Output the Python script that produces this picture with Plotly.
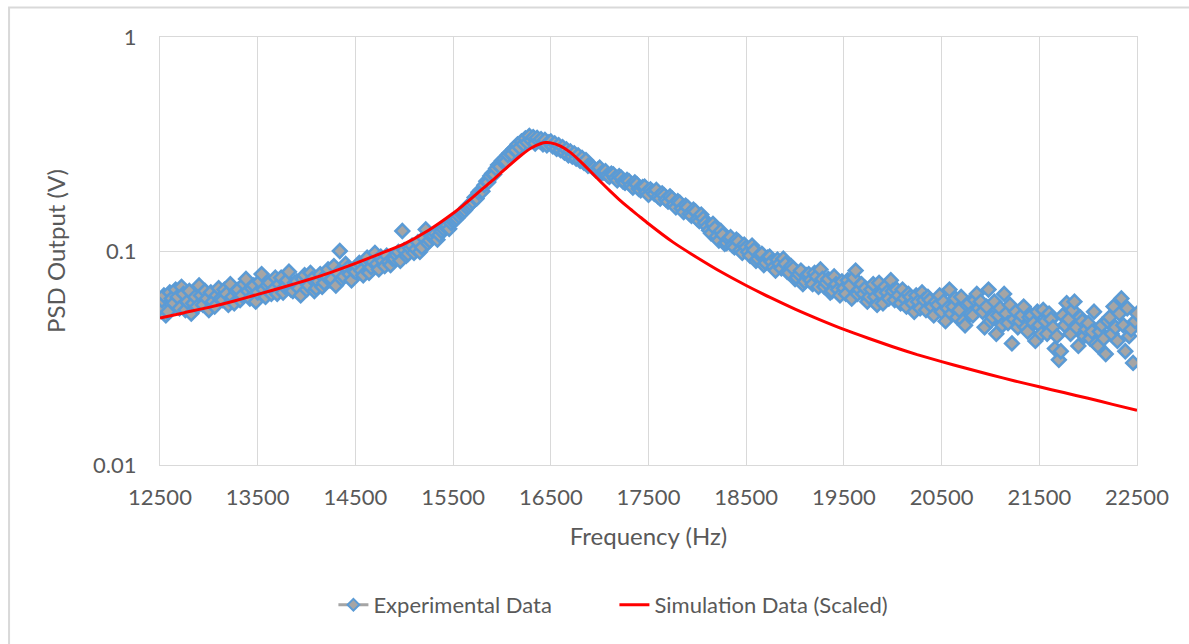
import plotly.graph_objects as go

# Frequency sweep of the measurement (Hz)
exp_freq = list(range(12500, 22501, 20))

# Measured PSD output (V), one row per 400 Hz of the sweep
exp_psd = [
    0.055, 0.059, 0.062, 0.050, 0.052, 0.064, 0.060, 0.057, 0.066, 0.061, 0.054, 0.068, 0.063, 0.053, 0.058, 0.065, 0.051, 0.057, 0.061, 0.055,
    0.069, 0.062, 0.056, 0.065, 0.060, 0.053, 0.064, 0.058, 0.055, 0.062, 0.067, 0.060, 0.059, 0.066, 0.063, 0.056, 0.070, 0.061, 0.057, 0.065,
    0.066, 0.059, 0.062, 0.070, 0.074, 0.065, 0.060, 0.067, 0.069, 0.058, 0.064, 0.072, 0.078, 0.066, 0.061, 0.069, 0.071, 0.063, 0.066, 0.075,
    0.063, 0.070, 0.075, 0.064, 0.068, 0.073, 0.080, 0.066, 0.065, 0.071, 0.072, 0.067, 0.062, 0.074, 0.077, 0.066, 0.069, 0.079, 0.074, 0.065,
    0.067, 0.072, 0.078, 0.068, 0.071, 0.077, 0.082, 0.073, 0.074, 0.085, 0.069, 0.079, 0.100, 0.074, 0.076, 0.087, 0.083, 0.078, 0.073, 0.081,
    0.080, 0.085, 0.088, 0.081, 0.077, 0.090, 0.093, 0.079, 0.084, 0.089, 0.098, 0.087, 0.082, 0.094, 0.090, 0.085, 0.095, 0.089, 0.086, 0.092,
    0.092, 0.096, 0.099, 0.090, 0.124, 0.101, 0.095, 0.097, 0.103, 0.106, 0.098, 0.102, 0.110, 0.099, 0.104, 0.115, 0.126, 0.109, 0.112, 0.117,
    0.118, 0.121, 0.113, 0.119, 0.124, 0.127, 0.130, 0.132, 0.127, 0.135, 0.138, 0.140, 0.142, 0.146, 0.150, 0.152, 0.155, 0.160, 0.163, 0.166,
    0.170, 0.178, 0.176, 0.188, 0.192, 0.190, 0.203, 0.212, 0.210, 0.224, 0.230, 0.228, 0.243, 0.252, 0.248, 0.264, 0.268, 0.262, 0.281, 0.288,
    0.284, 0.300, 0.296, 0.315, 0.305, 0.325, 0.316, 0.336, 0.322, 0.345, 0.328, 0.340, 0.318, 0.338, 0.326, 0.333, 0.315, 0.330, 0.312, 0.322,
    0.325, 0.308, 0.318, 0.300, 0.312, 0.296, 0.306, 0.288, 0.298, 0.280, 0.292, 0.276, 0.286, 0.270, 0.280, 0.264, 0.272, 0.258, 0.266, 0.250,
    0.252, 0.248, 0.244, 0.238, 0.240, 0.245, 0.231, 0.233, 0.236, 0.226, 0.222, 0.230, 0.228, 0.219, 0.214, 0.224, 0.220, 0.211, 0.208, 0.215,
    0.212, 0.203, 0.198, 0.209, 0.205, 0.195, 0.192, 0.199, 0.200, 0.188, 0.183, 0.194, 0.190, 0.185, 0.193, 0.179, 0.176, 0.186, 0.182, 0.174,
    0.170, 0.180, 0.176, 0.165, 0.160, 0.171, 0.168, 0.158, 0.152, 0.163, 0.160, 0.149, 0.146, 0.156, 0.153, 0.141, 0.138, 0.148, 0.142, 0.135,
    0.130, 0.125, 0.121, 0.134, 0.128, 0.117, 0.112, 0.124, 0.119, 0.108, 0.109, 0.114, 0.116, 0.106, 0.104, 0.113, 0.111, 0.101, 0.098, 0.107,
    0.104, 0.099, 0.095, 0.106, 0.101, 0.090, 0.092, 0.096, 0.097, 0.086, 0.088, 0.093, 0.094, 0.089, 0.084, 0.081, 0.091, 0.087, 0.083, 0.092,
    0.087, 0.080, 0.079, 0.085, 0.083, 0.074, 0.075, 0.078, 0.081, 0.070, 0.072, 0.077, 0.078, 0.073, 0.070, 0.079, 0.076, 0.068, 0.082, 0.074,
    0.068, 0.071, 0.074, 0.064, 0.065, 0.076, 0.070, 0.066, 0.062, 0.072, 0.067, 0.063, 0.073, 0.069, 0.060, 0.075, 0.081, 0.063, 0.066, 0.070,
    0.063, 0.067, 0.058, 0.061, 0.066, 0.070, 0.061, 0.056, 0.071, 0.063, 0.057, 0.068, 0.064, 0.060, 0.073, 0.065, 0.059, 0.066, 0.062, 0.057,
    0.066, 0.060, 0.055, 0.063, 0.061, 0.057, 0.052, 0.062, 0.058, 0.054, 0.064, 0.059, 0.053, 0.061, 0.059, 0.055, 0.050, 0.058, 0.056, 0.062,
    0.052, 0.058, 0.047, 0.054, 0.066, 0.051, 0.055, 0.060, 0.049, 0.053, 0.061, 0.047, 0.045, 0.056, 0.057, 0.051, 0.050, 0.059, 0.063, 0.054,
    0.058, 0.052, 0.044, 0.055, 0.066, 0.047, 0.049, 0.058, 0.041, 0.050, 0.054, 0.045, 0.063, 0.051, 0.046, 0.056, 0.037, 0.048, 0.052, 0.044,
    0.047, 0.050, 0.055, 0.044, 0.042, 0.049, 0.050, 0.046, 0.038, 0.052, 0.045, 0.041, 0.053, 0.047, 0.041, 0.051, 0.048, 0.044, 0.035, 0.040,
    0.031, 0.034, 0.050, 0.045, 0.057, 0.048, 0.041, 0.053, 0.058, 0.044, 0.036, 0.049, 0.047, 0.040, 0.043, 0.046, 0.039, 0.042, 0.052, 0.037,
    0.036, 0.042, 0.045, 0.039, 0.033, 0.047, 0.049, 0.041, 0.055, 0.044, 0.038, 0.051, 0.060, 0.045, 0.034, 0.054, 0.040, 0.043, 0.030, 0.047,
    0.051,
]

# Simulated response, scaled to the measurement
sim_freq = [
    12500, 12750, 13000, 13250, 13500, 13750, 14000, 14250, 14500, 14750,
    15000, 15250, 15500, 15600, 15700, 15800, 15900, 16000, 16100, 16200,
    16300, 16400, 16450, 16500, 16600, 16700, 16800, 16900, 17000, 17100,
    17200, 17300, 17400, 17500, 17750, 18000, 18250, 18500, 18750, 19000,
    19250, 19500, 19750, 20000, 20250, 20500, 20750, 21000, 21250, 21500,
    21750, 22000, 22250, 22500,
]
sim_psd = [
    0.0486, 0.0515, 0.0545, 0.0582, 0.0627, 0.0675, 0.0730, 0.0795, 0.0875, 0.0970,
    0.1080, 0.1250, 0.1500, 0.1630, 0.1780, 0.1950, 0.2130, 0.2340, 0.2570, 0.2810,
    0.3030, 0.3180, 0.3210, 0.3200, 0.3090, 0.2890, 0.2630, 0.2370, 0.2130, 0.1920,
    0.1740, 0.1590, 0.1460, 0.1340, 0.1100, 0.0930, 0.0795, 0.0690, 0.0605, 0.0535,
    0.0478, 0.0430, 0.0391, 0.0357, 0.0328, 0.0304, 0.0283, 0.0264, 0.0247, 0.0232,
    0.0218, 0.0205, 0.0192, 0.0180,
]

x_ticks = [12500, 13500, 14500, 15500, 16500, 17500, 18500, 19500, 20500, 21500, 22500]
y_ticks = [0.01, 0.1, 1]
y_tick_text = ["0.01", "0.1", "1"]

FONT = "Lato"
TEXT = "#595959"
GRID = "#D9D9D9"
BLUE = "#5B9BD5"
GRAY = "#A5A5A5"
RED = "#FF0000"

marker_style = dict(symbol="diamond", size=10.5, color=GRAY, line=dict(color=BLUE, width=2.6))

fig = go.Figure()

fig.add_trace(go.Scatter(
    x=exp_freq, y=exp_psd, mode="markers", name="Experimental Data",
    legendgroup="exp", showlegend=False, marker=marker_style,
))
# legend entry: gray series line with the diamond marker
fig.add_trace(go.Scatter(
    x=[None], y=[None], mode="lines+markers", name="Experimental Data",
    legendgroup="exp", line=dict(color=GRAY, width=3),
    marker=dict(symbol="diamond", size=9, color=GRAY, line=dict(color=BLUE, width=2)),
))
fig.add_trace(go.Scatter(
    x=sim_freq, y=sim_psd, mode="lines", name="Simulation Data (Scaled)",
    line=dict(color=RED, width=3, shape="spline", smoothing=0.6),
))

fig.update_layout(
    width=1189, height=644,
    margin=dict(l=160, r=52, t=37, b=179),
    paper_bgcolor="white", plot_bgcolor="white",
    font=dict(family=FONT, color=TEXT, size=22),
    showlegend=True,
    legend=dict(
        orientation="h", x=0.1775, xanchor="left", y=-0.327, yanchor="middle",
        font=dict(family=FONT, color=TEXT, size=22),
        entrywidth=236, entrywidthmode="pixels",
    ),
    shapes=[dict(
        type="rect", xref="paper", yref="paper",
        x0=-0.1545, x1=1.08, y0=-0.6, y1=1.069,
        line=dict(color=GRID, width=2), fillcolor="rgba(0,0,0,0)", layer="below",
    )],
)

fig.update_xaxes(
    range=[12500, 22500], tickvals=x_ticks, ticktext=[str(v) for v in x_ticks],
    showgrid=True, gridcolor=GRID, gridwidth=1,
    showline=True, linecolor=GRID, linewidth=1, mirror=True,
    zeroline=False, ticks="", ticklabelstandoff=13,
    tickfont=dict(family=FONT, color=TEXT, size=22),
    title=dict(text="Frequency (Hz)", font=dict(family=FONT, color=TEXT, size=24), standoff=18),
)
fig.update_yaxes(
    type="log", range=[-2, 0], tickvals=y_ticks, ticktext=y_tick_text,
    showgrid=True, gridcolor=GRID, gridwidth=1,
    showline=True, linecolor=GRID, linewidth=1, mirror=True,
    zeroline=False, ticks="", ticklabelstandoff=18,
    tickfont=dict(family=FONT, color=TEXT, size=22),
    title=dict(text="PSD Output (V)", font=dict(family=FONT, color=TEXT, size=24), standoff=20),
)

fig.write_html("out.html")
